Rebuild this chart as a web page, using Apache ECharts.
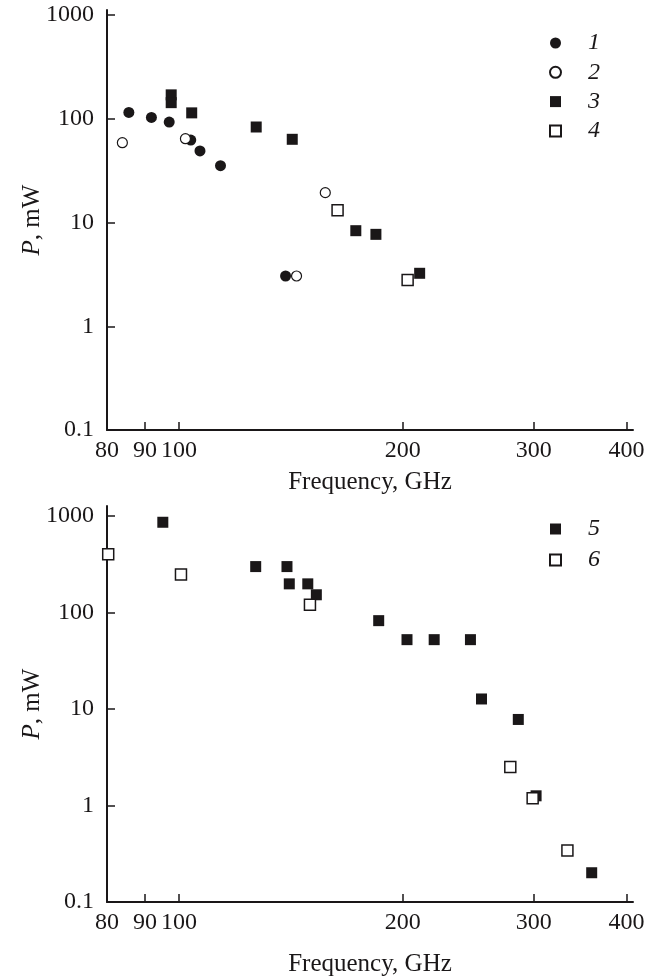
<!DOCTYPE html>
<html>
<head>
<meta charset="utf-8">
<script src="https://cdn.jsdelivr.net/npm/echarts@6/dist/echarts.min.js"></script>
<style>
html,body{margin:0;padding:0;background:#fff;}
#chart{width:655px;height:978px;}
</style>
</head>
<body>
<div id="chart"></div>
<script>
// ---- data ----
const freqTicks = [80, 90, 100, 200, 300, 400];
const freqMinorTicks = [90, 100, 200, 300, 400];
const powerTicks = [0.1, 1, 10, 100, 1000];

const topNames = ['1', '2', '3', '4'];
const bottomNames = ['5', '6'];

// [frequency GHz, power mW]
const series1 = [[85.6, 115], [91.8, 103], [97, 93], [103.7, 62.4], [106.7, 49], [113.7, 35.3], [139.1, 3.05]];
const series2 = [[83.9, 58.8], [102, 64.3], [157.3, 19.4], [143.9, 3.05]];
const series3 = [[97.6, 170], [97.6, 143], [104, 114], [127, 83.3], [142, 63.4], [172.9, 8.34], [184, 7.69], [210.7, 3.24]];
const series4 = [[163.4, 13.1], [203, 2.79]];
const series5 = [[95.1, 861], [126.8, 299], [139.7, 299], [140.7, 198], [149, 198], [153, 152.6], [185.6, 82.3], [202.6, 52.3], [220.4, 52.3], [246.6, 52.3], [255.2, 12.7], [286, 7.79], [302.2, 1.26], [359, 0.201]];
const series6 = [[80.3, 402], [100.6, 247], [150, 120], [279, 2.5], [299, 1.19], [333, 0.342]];

// ---- style ----
const INK = '#1a1718';
const FONT = 'Liberation Serif';

function xAxisFor(gridIndex, nameGap) {
  return {
    type: 'log', logBase: 10, gridIndex: gridIndex, min: 80, max: 408,
    axisLine: { show: true, onZero: false, lineStyle: { color: INK, width: 2 } },
    axisTick: { show: true, inside: true, length: 8, customValues: freqMinorTicks, lineStyle: { color: INK, width: 1.5 } },
    axisLabel: { customValues: freqTicks, color: INK, fontFamily: FONT, fontSize: 24, margin: 9,
      formatter: v => String(Math.round(v)) },
    splitLine: { show: false },
    minorTick: { show: false },
    name: 'Frequency, GHz', nameLocation: 'middle', nameGap: nameGap,
    nameTextStyle: { color: INK, fontFamily: FONT, fontSize: 25 }
  };
}
function yAxisFor(gridIndex, max) {
  return {
    type: 'log', logBase: 10, gridIndex: gridIndex, min: 0.1, max: max,
    axisLine: { show: true, onZero: false, lineStyle: { color: INK, width: 2 } },
    axisTick: { show: true, inside: true, length: 8, customValues: powerTicks, lineStyle: { color: INK, width: 1.5 } },
    axisLabel: { customValues: powerTicks, color: INK, fontFamily: FONT, fontSize: 24, margin: 13,
      formatter: v => (v < 0.5 ? '0.1' : String(Math.round(v))) },
    splitLine: { show: false },
    name: '{i|P}, mW', nameLocation: 'middle', nameGap: 62, nameRotate: 90, nameMoveOverlap: false,
    nameTextStyle: { color: INK, fontFamily: FONT, fontSize: 25,
      rich: { i: { fontStyle: 'italic', fontFamily: FONT, fontSize: 25, color: INK } } }
  };
}

const filledCircle = { symbol: 'circle', symbolSize: 11, itemStyle: { color: INK, opacity: 1 } };
const openCircle = { symbol: 'circle', symbolSize: 10, itemStyle: { color: '#fff', borderColor: INK, borderWidth: 1.2, opacity: 1 } };
const filledSquare = { symbol: 'rect', symbolSize: 11, itemStyle: { color: INK, opacity: 1 } };
const openSquare = { symbol: 'rect', symbolSize: 11, itemStyle: { color: '#fff', borderColor: INK, borderWidth: 1.5, opacity: 1 } };

function sc(name, data, xi, style) {
  return Object.assign({ name: name, type: 'scatter', xAxisIndex: xi, yAxisIndex: xi, data: data, clip: false,
    emphasis: { disabled: true } }, JSON.parse(JSON.stringify(style)));
}

const legendText = { color: INK, fontFamily: FONT, fontSize: 24, fontStyle: 'italic', lineHeight: 20, padding: [0, 0, 0, 22] };

const chart = echarts.init(document.getElementById('chart'), null, { renderer: 'canvas' });
chart.setOption({
  animation: false,
  backgroundColor: '#fff',
  grid: [
    { left: 107, top: 10, width: 526, height: 420 },
    { left: 107, top: 506, width: 526, height: 397 }
  ],
  xAxis: [xAxisFor(0, 40), xAxisFor(1, 50)],
  yAxis: [yAxisFor(0, 1118), yAxisFor(1, 1269)],
  legend: [
    { data: topNames, orient: 'vertical', left: 549, top: 31, padding: 0, itemGap: 5.3,
      itemWidth: 11, itemHeight: 11, textStyle: legendText, selectedMode: false },
    { data: bottomNames, orient: 'vertical', left: 549, top: 517, padding: 0, itemGap: 7,
      itemWidth: 11, itemHeight: 11, textStyle: legendText, selectedMode: false }
  ],
  series: [
    sc(topNames[0], series1, 0, filledCircle),
    sc(topNames[1], series2, 0, openCircle),
    sc(topNames[2], series3, 0, filledSquare),
    sc(topNames[3], series4, 0, openSquare),
    sc(bottomNames[0], series5, 1, filledSquare),
    sc(bottomNames[1], series6, 1, openSquare)
  ]
});
</script>
</body>
</html>
